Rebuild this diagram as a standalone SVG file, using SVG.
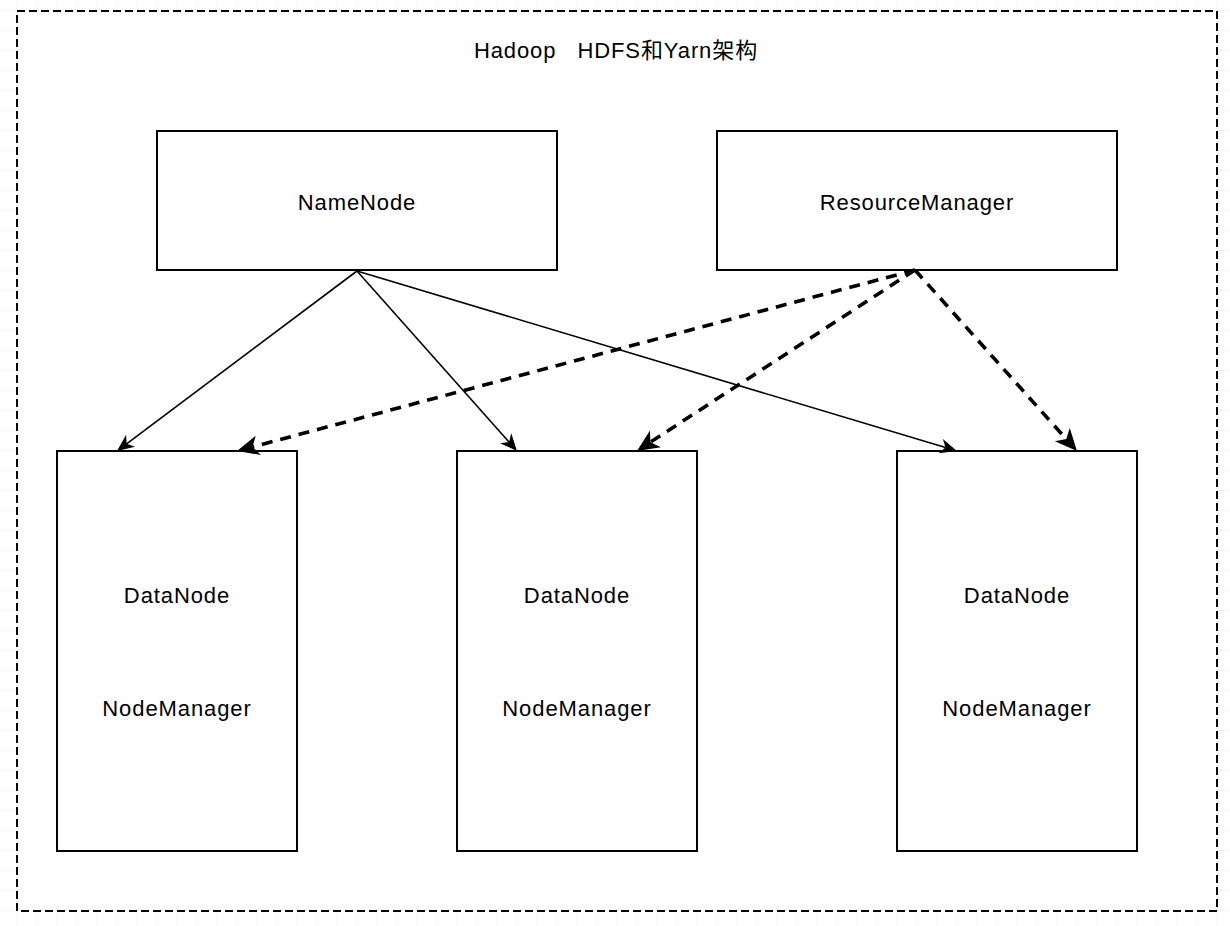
<svg xmlns="http://www.w3.org/2000/svg" width="1230" height="926" viewBox="0 0 1230 926">
<style>
.node{fill:#fff;stroke:#000;stroke-width:2}
.lbl{font-family:"Liberation Sans","Noto Sans CJK SC",Arial,sans-serif;font-size:22px;letter-spacing:0.9px;fill:#000;text-anchor:middle}
.solid{fill:none;stroke:#000;stroke-width:1.6}
.dash{fill:none;stroke:#000;stroke-width:3.6;stroke-dasharray:11 8}
</style>
<defs>
<pattern id="grid" patternUnits="userSpaceOnUse" x="-3.3" y="10" width="20" height="20">
<path d="M0,0 H20 M0,0 V20" fill="none" stroke="#eeeeee" stroke-width="1"/>
</pattern>
<marker id="ahS" markerUnits="userSpaceOnUse" viewBox="-18 -9 20 18" markerWidth="20" markerHeight="18" refX="-12" refY="0" orient="auto">
<path d="M0,0 L-17,-7.5 L-12,0 L-17,7.5 Z" fill="#000"/>
</marker>
<marker id="ahD" markerUnits="userSpaceOnUse" viewBox="-24 -12 26 24" markerWidth="26" markerHeight="24" refX="-16" refY="0" orient="auto">
<path d="M0,0 L-22,-10 L-16,0 L-22,10 Z" fill="#000"/>
</marker>
</defs>
<rect x="0" y="0" width="1230" height="926" fill="#fff"/>
<rect x="0" y="0" width="1230" height="926" fill="url(#grid)"/>
<g id="container">
<rect x="17" y="11" width="1200" height="900" fill="#fff" stroke="#000" stroke-width="2" stroke-dasharray="8 4"/>
<text class="lbl" x="616" y="58" xml:space="preserve">Hadoop   HDFS和Yarn架构</text>
</g>
<g id="namenode">
<rect class="node" x="157" y="131" width="400" height="139"/>
<text class="lbl" x="357" y="210">NameNode</text>
</g>
<g id="resourcemanager">
<rect class="node" x="717" y="131" width="400" height="139"/>
<text class="lbl" x="917" y="210">ResourceManager</text>
</g>
<g id="worker1">
<rect class="node" x="57" y="451" width="240" height="400"/>
<text class="lbl" x="177" y="603">DataNode</text>
<text class="lbl" x="177" y="716">NodeManager</text>
</g>
<g id="worker2">
<rect class="node" x="457" y="451" width="240" height="400"/>
<text class="lbl" x="577" y="603">DataNode</text>
<text class="lbl" x="577" y="716">NodeManager</text>
</g>
<g id="worker3">
<rect class="node" x="897" y="451" width="240" height="400"/>
<text class="lbl" x="1017" y="603">DataNode</text>
<text class="lbl" x="1017" y="716">NodeManager</text>
</g>
<g id="connectors">
<path class="solid" d="M357,271 L126.6,443.8" marker-end="url(#ahS)"/>
<path class="solid" d="M357,271 L509,442" marker-end="url(#ahS)"/>
<path class="solid" d="M357,271 L945.5,447.5" marker-end="url(#ahS)"/>
<path class="dash" d="M915,270 L252.5,446.9" marker-end="url(#ahD)"/>
<path class="dash" d="M915,270 L650.4,442.2" marker-end="url(#ahD)"/>
<path class="dash" d="M915,270 L1066.3,439.1" marker-end="url(#ahD)"/>
</g>
</svg>
